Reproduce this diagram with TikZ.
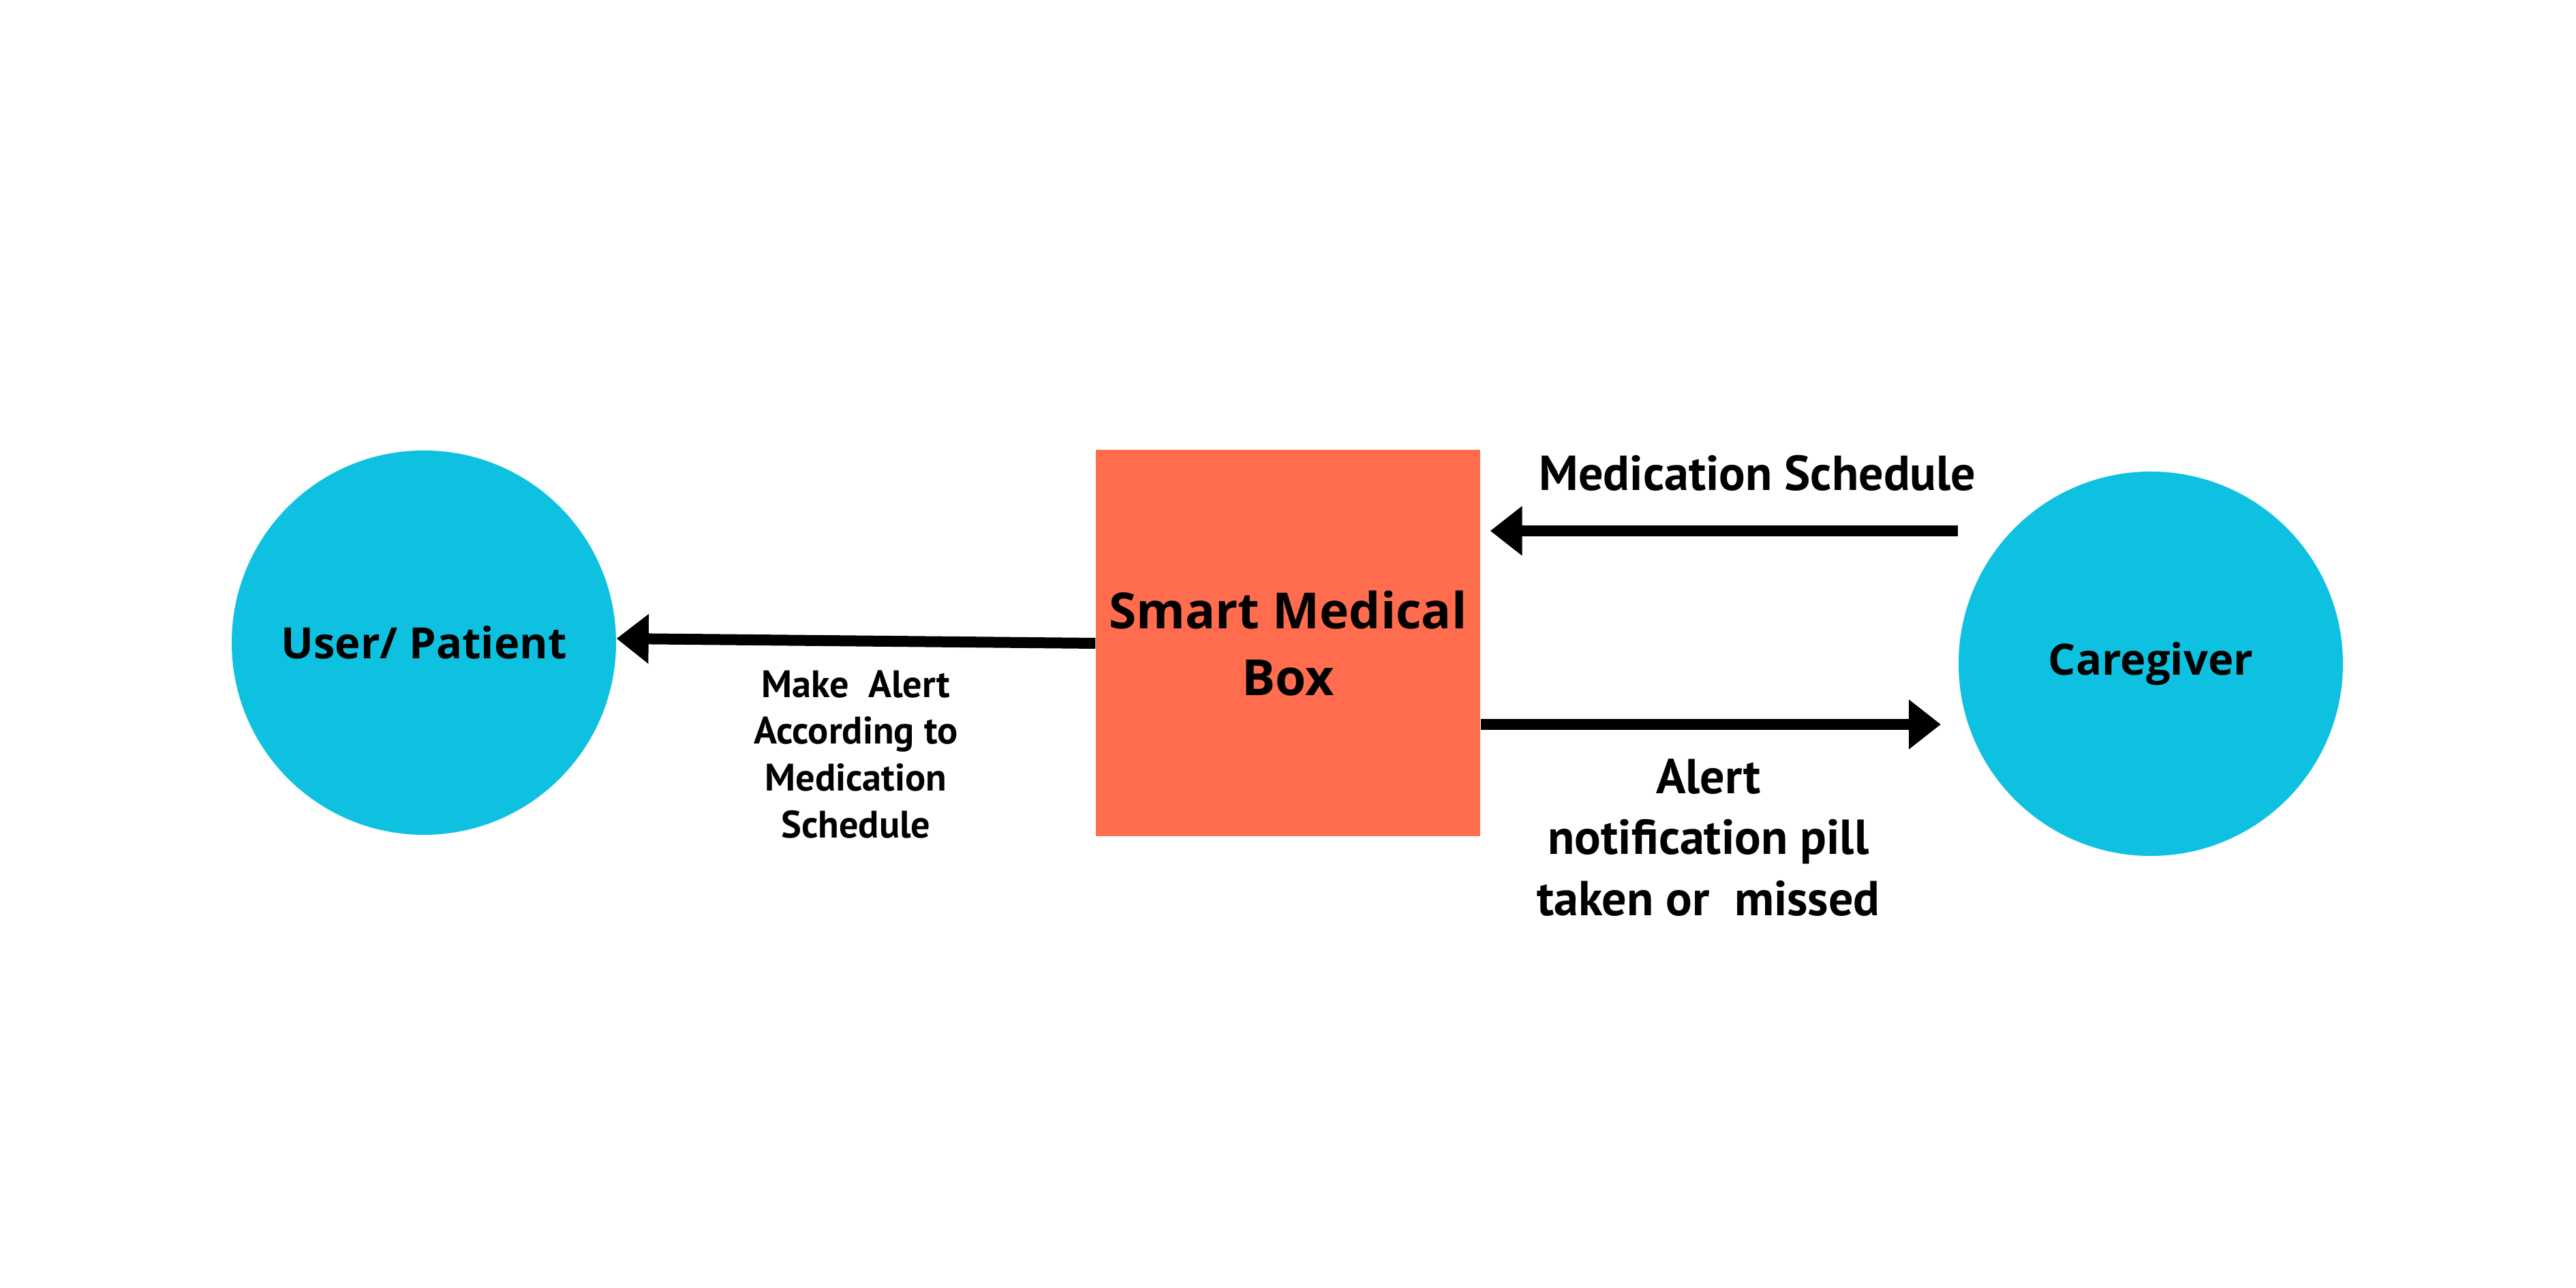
\documentclass[tikz,border=0pt]{standalone}
\usepackage{fontspec}
\setmainfont{Open Sans}
\newfontfamily\rotulofont{PT Sans}
\usetikzlibrary{arrows.meta}
\definecolor{ciano}{HTML}{0FC1E0}
\definecolor{laranja}{HTML}{FF6C4E}
\begin{document}
\begin{tikzpicture}[
                ator/.style={shape=circle, fill=ciano, minimum size=5.64cm, inner sep=0pt, font=\bfseries\fontsize{18}{22}\selectfont},
                caixa/.style={shape=rectangle, fill=laranja, minimum width=5.64cm, minimum height=5.67cm, align=center, font=\bfseries\fontsize{20.8}{28}\selectfont},
                seta/.style={line width=0.16cm, -{Triangle[length=0.47cm, width=0.7cm]}},
                rotulo/.style={align=center, font=\rotulofont\bfseries\fontsize{20.5}{25.5}\selectfont},
            ]
            \useasboundingbox (0,0) rectangle (37.8,18.9);
            \node[ator] (usuario) at (6.22, 9.47) {User/ Patient};
            \node[caixa] (box) at (18.90, 9.46) {Smart Medical\\Box};
            \node[ator] (cuidador) at (31.56, 9.16) {Caregiver};
            \coordinate (ms) at (28.73, 11.11);
            \coordinate (al) at (28.48, 8.27);
            \draw[seta] (box.west) -- ([yshift=0.06cm]usuario.east);
            \draw[seta] (ms) -- ([xshift=0.14cm]box.east |- ms);
            \draw[seta] (box.east |- al) -- (al);
            \node[rotulo] (agenda) at (25.79, 11.96) {Medication Schedule};
            \node[rotulo] (alerta) at (25.07, 6.61) {Alert\\notification pill\\taken or~~missed};
            \node[rotulo, font=\rotulofont\bfseries\fontsize{16}{19.6}\selectfont] (aviso) at (12.56, 7.83) {Make~~Alert\\According to\\Medication\\Schedule};
        \end{tikzpicture}
\end{document}
